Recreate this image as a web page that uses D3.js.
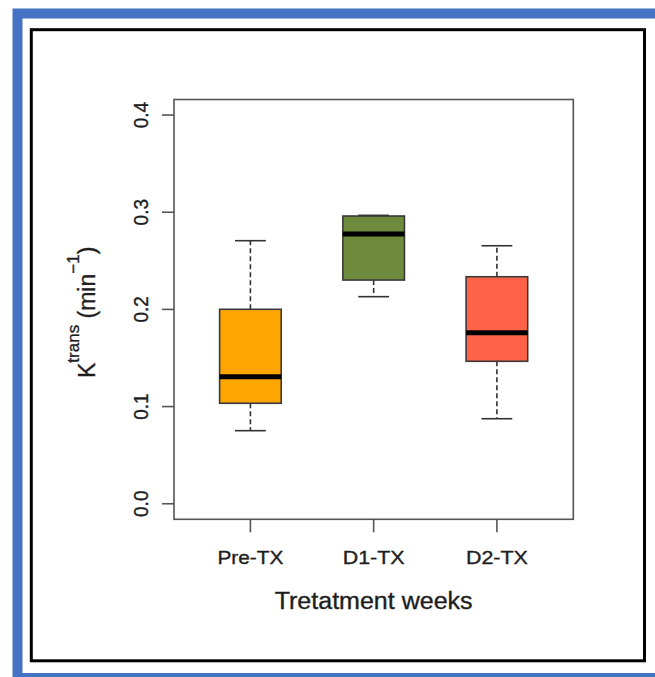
<!DOCTYPE html>
<html><head><meta charset="utf-8">
<script src="https://cdn.jsdelivr.net/npm/d3@7"></script>
<style>html,body{margin:0;padding:0;background:#fff;}svg{display:block;}</style>
</head><body>
<script>
// ---- data ----
const categories = ["Pre-TX", "D1-TX", "D2-TX"];
const whiskerLow = [0.0752, 0.2131, 0.0875];
const q1Values   = [0.1034, 0.2302, 0.1466];
const medians    = [0.1307, 0.2776, 0.1760];
const q3Values   = [0.2001, 0.2961, 0.2336];
const whiskerHigh= [0.2707, 0.2968, 0.2655];
const boxColors  = ["#FFA500", "#6E8B3D", "#FF6347"];
const yTicks     = [0.0, 0.1, 0.2, 0.3, 0.4];
const xTitle = "Tretatment weeks";

const W = 655, H = 677;
const svg = d3.select("body").append("svg").attr("width", W).attr("height", H);
svg.append("rect").attr("width", W).attr("height", H).attr("fill", "#fff");

// frames
svg.append("rect").attr("x", 17.5).attr("y", 13.5).attr("width", 670).attr("height", 664.5)
  .attr("fill", "none").attr("stroke", "#4472C4").attr("stroke-width", 10);
svg.append("rect").attr("x", 31.3).attr("y", 29.7).attr("width", 613.2).attr("height", 631.1)
  .attr("fill", "none").attr("stroke", "#000").attr("stroke-width", 3);

const plot = {left: 174, right: 573.3, top: 99.5, bottom: 519.3};
const y = d3.scaleLinear().domain([-0.016, 0.416]).range([plot.bottom, plot.top]);
const x = d3.scaleLinear().domain([0.38, 3.62]).range([plot.left, plot.right]);
const fontFam = "Liberation Sans, Arial, sans-serif";
const txt = "#1e1e1e";

// boxes
const data = categories.map((c, i) => ({c, i: i + 1, lo: whiskerLow[i], q1: q1Values[i], med: medians[i], q3: q3Values[i], hi: whiskerHigh[i], col: boxColors[i]}));
const g = svg.append("g");
const bw = 0.25, cw = 0.125;
data.forEach(d => {
  g.append("line").attr("x1", x(d.i)).attr("x2", x(d.i)).attr("y1", y(d.q3)).attr("y2", y(d.hi))
    .attr("stroke", "#333").attr("stroke-width", 1.6).attr("stroke-dasharray", "5,3");
  g.append("line").attr("x1", x(d.i)).attr("x2", x(d.i)).attr("y1", y(d.q1)).attr("y2", y(d.lo))
    .attr("stroke", "#333").attr("stroke-width", 1.6).attr("stroke-dasharray", "5,3");
  [d.lo, d.hi].forEach(v => g.append("line").attr("x1", x(d.i - cw)).attr("x2", x(d.i + cw))
    .attr("y1", y(v)).attr("y2", y(v)).attr("stroke", "#333").attr("stroke-width", 1.6));
  g.append("rect").attr("x", x(d.i - bw)).attr("width", x(d.i + bw) - x(d.i - bw))
    .attr("y", y(d.q3)).attr("height", y(d.q1) - y(d.q3))
    .attr("fill", d.col).attr("stroke", "#3a3a3a").attr("stroke-width", 1.6);
  g.append("line").attr("x1", x(d.i - bw)).attr("x2", x(d.i + bw)).attr("y1", y(d.med)).attr("y2", y(d.med))
    .attr("stroke", "#000").attr("stroke-width", 5);
});

// plot frame
svg.append("rect").attr("x", plot.left).attr("y", plot.top)
  .attr("width", plot.right - plot.left).attr("height", plot.bottom - plot.top)
  .attr("fill", "none").attr("stroke", "#555").attr("stroke-width", 1.6);

// y axis ticks
svg.selectAll(".yt").data(yTicks).enter().append("line")
  .attr("x1", plot.left - 12).attr("x2", plot.left).attr("y1", d => y(d)).attr("y2", d => y(d))
  .attr("stroke", "#555").attr("stroke-width", 1.6);
svg.selectAll(".yl").data(yTicks).enter().append("text")
  .attr("transform", d => `translate(148,${y(d)}) scale(1.05,1) rotate(-90)`)
  .attr("text-anchor", "middle").attr("font-family", fontFam).attr("font-size", 19)
  .attr("fill", txt).attr("stroke", txt).attr("stroke-width", 0.35)
  .text(d => d3.format(".1f")(d));

// x axis ticks
svg.selectAll(".xt").data(data).enter().append("line")
  .attr("x1", d => x(d.i)).attr("x2", d => x(d.i)).attr("y1", plot.bottom).attr("y2", plot.bottom + 13)
  .attr("stroke", "#555").attr("stroke-width", 1.6);
svg.selectAll(".xl").data(data).enter().append("text")
  .attr("x", d => x(d.i)).attr("y", 563.5).attr("text-anchor", "middle")
  .attr("font-family", fontFam).attr("font-size", 19)
  .attr("fill", txt).attr("stroke", txt).attr("stroke-width", 0.35)
  .attr("textLength", d => d.c === "Pre-TX" ? 66 : 62).attr("lengthAdjust", "spacingAndGlyphs")
  .text(d => d.c);

// x title
svg.append("text").attr("x", (plot.left + plot.right) / 2).attr("y", 608.5).attr("text-anchor", "middle")
  .attr("font-family", fontFam).attr("font-size", 23)
  .attr("fill", txt).attr("stroke", txt).attr("stroke-width", 0.35)
  .attr("textLength", 198).attr("lengthAdjust", "spacingAndGlyphs")
  .text(xTitle);

// y title
const yt = svg.append("text").attr("transform", `translate(95,378) rotate(-90)`)
  .attr("text-anchor", "start").attr("font-family", fontFam).attr("font-size", 23)
  .attr("fill", txt).attr("stroke", txt).attr("stroke-width", 0.35);
yt.append("tspan").text("K");
yt.append("tspan").attr("font-size", 17).attr("dy", -16).text("trans");
yt.append("tspan").attr("dy", 16).text(" (min");
yt.append("tspan").attr("font-size", 17).attr("dy", -16).text("\u22121");
yt.append("tspan").attr("dy", 16).text(")");
</script>
</body></html>
